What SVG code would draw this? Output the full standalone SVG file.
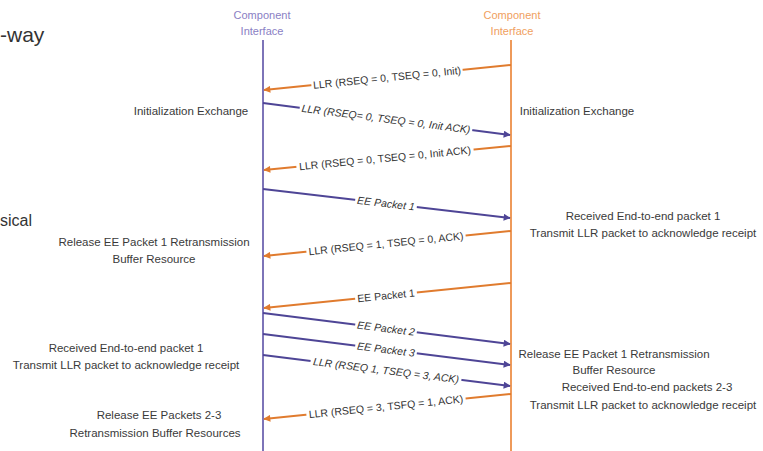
<svg xmlns="http://www.w3.org/2000/svg" width="763" height="451" viewBox="0 0 763 451">
<defs>
<marker id="ao" viewBox="0 0 10 10" refX="9" refY="5" markerWidth="9" markerHeight="7" markerUnits="userSpaceOnUse" orient="auto"><path d="M0,0 L10,5 L0,10 z" fill="#e07b2e"/></marker>
<marker id="ap" viewBox="0 0 10 10" refX="9" refY="5" markerWidth="9" markerHeight="7" markerUnits="userSpaceOnUse" orient="auto"><path d="M0,0 L10,5 L0,10 z" fill="#4e4596"/></marker>
</defs>
<style>
.side{font-family:"Liberation Sans",Arial,sans-serif;font-size:11.5px;fill:#3a3a3a;text-anchor:middle}
.hdr{font-family:"Liberation Sans",Arial,sans-serif;font-size:11px;text-anchor:middle}
.lbl{font-family:"Liberation Sans",Arial,sans-serif;font-size:10.5px;fill:#333;text-anchor:middle}
.pl{font-style:italic}
.bg{fill:#fff}
.o{stroke:#e07b2e;stroke-width:2;fill:none;marker-end:url(#ao)}
.p{stroke:#4e4596;stroke-width:2;fill:none;marker-end:url(#ap)}
.big{font-family:"Liberation Sans",Arial,sans-serif;fill:#333}
</style>
<rect width="763" height="451" fill="#fff"/>
<text class="big" x="0" y="42" font-size="21">-way</text>
<text class="big" x="0" y="226" font-size="16">sical</text>
<g id="lifeline-left">
<text class="hdr" x="262" y="19" fill="#8a80c4">Component</text>
<text class="hdr" x="262" y="35" fill="#8a80c4">Interface</text>
<line x1="263" y1="40" x2="263" y2="451" stroke="#7d74b8" stroke-width="2"/>
</g>
<g id="lifeline-right">
<text class="hdr" x="512" y="19" fill="#f0a060">Component</text>
<text class="hdr" x="512" y="35" fill="#f0a060">Interface</text>
<line x1="511" y1="40" x2="511" y2="451" stroke="#ee9a5a" stroke-width="2"/>
</g>
<g id="connectors">
<line class="o" x1="511" y1="65" x2="264" y2="90"/>
<line class="p" x1="263" y1="103" x2="510" y2="135"/>
<line class="o" x1="511" y1="146" x2="264" y2="170"/>
<line class="p" x1="263" y1="189" x2="510" y2="218"/>
<line class="o" x1="511" y1="231" x2="264" y2="256"/>
<line class="o" x1="511" y1="283" x2="264" y2="308"/>
<line class="p" x1="263" y1="313" x2="510" y2="344"/>
<line class="p" x1="263" y1="334" x2="510" y2="365"/>
<line class="p" x1="263" y1="355" x2="510" y2="386"/>
<line class="o" x1="511" y1="394" x2="264" y2="419"/>
<g transform="translate(387,77.6) rotate(-5.8)"><rect class="bg" x="-76" y="-6" width="152" height="12"/><text class="lbl" dy="3.7">LLR (RSEQ = 0, TSEQ = 0, Init)</text></g>
<g transform="translate(386,118.9) rotate(7.35)"><rect class="bg" x="-87" y="-6" width="174" height="12"/><text class="lbl pl" dy="3.7">LLR (RSEQ= 0, TSEQ = 0, Init ACK)</text></g>
<g transform="translate(385,158.2) rotate(-5.5)"><rect class="bg" x="-89" y="-6" width="178" height="12"/><text class="lbl" dy="3.7">LLR (RSEQ = 0, TSEQ = 0, Init ACK)</text></g>
<g transform="translate(386,203.4) rotate(6.7)"><rect class="bg" x="-31" y="-6" width="62" height="12"/><text class="lbl pl" dy="3.7">EE Packet 1</text></g>
<g transform="translate(386,243.6) rotate(-5.8)"><rect class="bg" x="-80" y="-6" width="160" height="12"/><text class="lbl" dy="3.7">LLR (RSEQ = 1, TSEQ = 0, ACK)</text></g>
<g transform="translate(386,295.6) rotate(-5.8)"><rect class="bg" x="-31" y="-6" width="62" height="12"/><text class="lbl" dy="3.7">EE Packet 1</text></g>
<g transform="translate(386,328.4) rotate(7.1)"><rect class="bg" x="-31" y="-6" width="62" height="12"/><text class="lbl pl" dy="3.7">EE Packet 2</text></g>
<g transform="translate(386,349.4) rotate(7.1)"><rect class="bg" x="-31" y="-6" width="62" height="12"/><text class="lbl pl" dy="3.7">EE Packet 3</text></g>
<g transform="translate(386,370.4) rotate(7.1)"><rect class="bg" x="-76" y="-6" width="152" height="12"/><text class="lbl pl" dy="3.7">LLR (RSEQ 1, TSEQ = 3, ACK)</text></g>
<g transform="translate(386,406.6) rotate(-5.8)"><rect class="bg" x="-80" y="-6" width="160" height="12"/><text class="lbl" dy="3.7">LLR (RSEQ = 3, TSFQ = 1, ACK)</text></g>
</g>
<g id="note-left-init"><text class="side" x="191" y="115">Initialization Exchange</text></g>
<g id="note-right-init"><text class="side" x="577" y="115">Initialization Exchange</text></g>
<g id="note-left-release1">
<text class="side" x="154" y="246">Release EE Packet 1 Retransmission</text>
<text class="side" x="154" y="263">Buffer Resource</text>
</g>
<g id="note-right-recv1">
<text class="side" x="643" y="220">Received End-to-end packet 1</text>
<text class="side" x="643" y="237">Transmit LLR packet to acknowledge receipt</text>
</g>
<g id="note-left-recv1">
<text class="side" x="126" y="352">Received End-to-end packet 1</text>
<text class="side" x="126" y="369">Transmit LLR packet to acknowledge receipt</text>
</g>
<g id="note-right-release1">
<text class="side" x="614" y="358">Release EE Packet 1 Retransmission</text>
<text class="side" x="614" y="374">Buffer Resource</text>
<text class="side" x="647" y="391">Received End-to-end packets 2-3</text>
<text class="side" x="643" y="409">Transmit LLR packet to acknowledge receipt</text>
</g>
<g id="note-left-release23">
<text class="side" x="159" y="419" font-size="12.5">Release EE Packets 2-3</text>
<text class="side" x="155" y="437">Retransmission Buffer Resources</text>
</g>
</svg>
